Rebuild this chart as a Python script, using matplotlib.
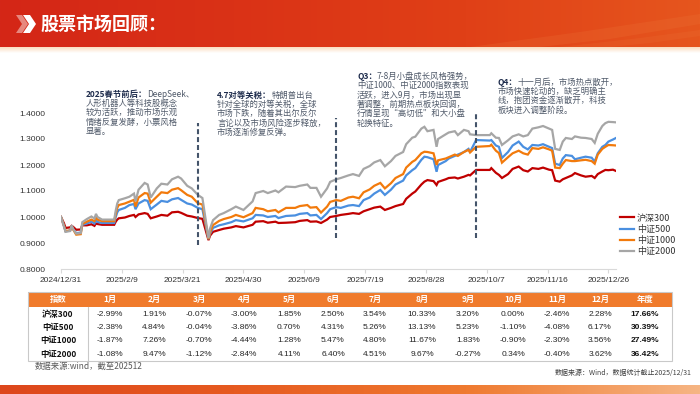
import numpy as np
import pandas as pd
import matplotlib
matplotlib.use("Agg")
import matplotlib.pyplot as plt
from matplotlib.patches import Rectangle, Polygon
from matplotlib.colors import LinearSegmentedColormap

CJK = ["Noto Sans CJK SC", "DejaVu Sans"]
NUM = ["Liberation Sans", "Noto Sans CJK SC", "DejaVu Sans"]
plt.rcParams["font.family"] = CJK

# ---- 指数走势（2024/12/31 = 1） ----
dates = [
    "2024-12-31", "2025-01-02", "2025-01-03", "2025-01-06", "2025-01-07", "2025-01-08", "2025-01-10",
    "2025-01-13", "2025-01-14", "2025-01-17", "2025-01-20", "2025-01-22", "2025-01-23", "2025-01-24", "2025-01-27",
    "2025-02-04", "2025-02-05", "2025-02-06", "2025-02-07", "2025-02-11", "2025-02-14", "2025-02-17",
    "2025-02-18", "2025-02-20", "2025-02-24", "2025-02-26", "2025-02-28",
    "2025-03-04", "2025-03-07", "2025-03-11", "2025-03-14", "2025-03-18", "2025-03-20", "2025-03-24",
    "2025-03-27", "2025-03-31",
    "2025-04-03", "2025-04-07", "2025-04-08", "2025-04-10", "2025-04-14", "2025-04-17", "2025-04-22",
    "2025-04-25", "2025-04-30",
    "2025-05-06", "2025-05-08", "2025-05-13", "2025-05-16", "2025-05-21", "2025-05-23", "2025-05-28",
    "2025-06-03", "2025-06-06", "2025-06-11", "2025-06-13", "2025-06-17", "2025-06-20", "2025-06-24",
    "2025-06-26", "2025-06-30",
    "2025-07-03", "2025-07-08", "2025-07-11", "2025-07-15", "2025-07-18", "2025-07-22", "2025-07-25", "2025-07-29",
    "2025-08-01", "2025-08-05", "2025-08-08", "2025-08-13", "2025-08-15", "2025-08-19", "2025-08-21",
    "2025-08-25", "2025-08-27", "2025-08-29",
    "2025-09-02", "2025-09-04", "2025-09-05", "2025-09-10", "2025-09-12", "2025-09-16", "2025-09-18",
    "2025-09-22", "2025-09-25", "2025-09-26", "2025-09-30",
    "2025-10-09", "2025-10-10", "2025-10-13", "2025-10-15", "2025-10-17", "2025-10-21", "2025-10-24",
    "2025-10-28", "2025-10-31",
    "2025-11-03", "2025-11-06", "2025-11-10", "2025-11-13", "2025-11-17", "2025-11-19", "2025-11-21",
    "2025-11-24", "2025-11-26", "2025-11-28",
    "2025-12-02", "2025-12-04", "2025-12-08", "2025-12-11", "2025-12-15", "2025-12-17", "2025-12-19",
    "2025-12-22", "2025-12-24", "2025-12-26", "2025-12-29", "2025-12-31",
]

hs300 = [
    1.000, 0.975, 0.958, 0.960, 0.966, 0.962, 0.951, 0.952, 0.968, 0.968, 0.972, 0.966, 0.975, 0.973, 0.970,
    0.970, 0.982, 0.990, 0.995, 0.998, 1.004, 1.008, 1.000, 1.010, 1.015, 1.012, 0.995,
    1.002, 1.008, 1.005, 1.018, 1.020, 1.016, 1.005, 1.002, 0.996,
    0.993, 0.911, 0.928, 0.943, 0.950, 0.955, 0.960, 0.965, 0.960,
    0.970, 0.982, 0.984, 0.978, 0.982, 0.977, 0.978,
    0.980, 0.985, 0.988, 0.982, 0.983, 0.977, 0.990, 1.000, 1.004,
    1.008, 1.012, 1.015, 1.012, 1.022, 1.030, 1.036, 1.040,
    1.027, 1.035, 1.042, 1.050, 1.070, 1.090, 1.098, 1.125, 1.136, 1.142,
    1.138, 1.123, 1.135, 1.145, 1.150, 1.152, 1.148, 1.155, 1.162, 1.160, 1.181,
    1.181, 1.188, 1.170, 1.162, 1.150, 1.165, 1.185, 1.194, 1.180,
    1.175, 1.188, 1.185, 1.190, 1.182, 1.180, 1.140, 1.136, 1.145, 1.150,
    1.160, 1.169, 1.160, 1.155, 1.158, 1.150, 1.165, 1.175, 1.181, 1.180, 1.182, 1.177,
]

zz500 = [
    1.000, 0.965, 0.945, 0.948, 0.962, 0.953, 0.938, 0.940, 0.970, 0.975, 0.982, 0.975, 0.988, 0.981, 0.977,
    0.977, 1.000, 1.018, 1.027, 1.035, 1.046, 1.050, 1.030, 1.052, 1.065, 1.062, 1.030,
    1.048, 1.062, 1.058, 1.068, 1.073, 1.066, 1.052, 1.048, 1.035,
    1.030, 0.915, 0.935, 0.958, 0.968, 0.972, 0.980, 0.988, 0.983,
    0.995, 1.008, 1.006, 1.000, 1.004, 0.996, 1.004,
    1.006, 1.012, 1.015, 1.006, 1.008, 0.992, 1.015, 1.030, 1.038,
    1.035, 1.044, 1.046, 1.042, 1.065, 1.075, 1.090, 1.104,
    1.085, 1.105, 1.125, 1.140, 1.160, 1.180, 1.188, 1.220, 1.232, 1.230,
    1.222, 1.174, 1.200, 1.215, 1.225, 1.235, 1.240, 1.250, 1.262, 1.250, 1.296,
    1.294, 1.296, 1.275, 1.270, 1.227, 1.250, 1.275, 1.290, 1.270,
    1.260, 1.277, 1.275, 1.280, 1.270, 1.265, 1.205, 1.200, 1.225, 1.238,
    1.235, 1.222, 1.228, 1.232, 1.228, 1.213, 1.245, 1.270, 1.277, 1.290, 1.298, 1.304,
]

zz1000 = [
    1.000, 0.965, 0.946, 0.948, 0.963, 0.952, 0.932, 0.934, 0.973, 0.982, 0.990, 0.984, 0.998, 0.990, 0.984,
    0.984, 1.012, 1.035, 1.046, 1.052, 1.059, 1.066, 1.040, 1.075, 1.092, 1.090, 1.055,
    1.078, 1.095, 1.092, 1.105, 1.111, 1.103, 1.085, 1.078, 1.053,
    1.048, 0.915, 0.940, 0.969, 0.985, 0.992, 1.000, 1.008, 0.999,
    1.015, 1.035, 1.030, 1.022, 1.027, 1.018, 1.035,
    1.035, 1.042, 1.046, 1.036, 1.038, 1.017, 1.040, 1.058, 1.065,
    1.062, 1.075, 1.078, 1.072, 1.095, 1.106, 1.120, 1.131,
    1.110, 1.130, 1.150, 1.165, 1.190, 1.212, 1.219, 1.245, 1.251, 1.250,
    1.245, 1.200, 1.218, 1.225, 1.230, 1.240, 1.235, 1.250, 1.258, 1.248, 1.270,
    1.273, 1.278, 1.255, 1.246, 1.209, 1.230, 1.245, 1.255, 1.245,
    1.240, 1.265, 1.262, 1.268, 1.260, 1.255, 1.190, 1.188, 1.205, 1.219,
    1.215, 1.215, 1.218, 1.220, 1.215, 1.205, 1.240, 1.262, 1.270, 1.277, 1.276, 1.275,
]

zz2000 = [
    1.000, 0.962, 0.943, 0.946, 0.968, 0.954, 0.936, 0.938, 0.980, 0.992, 1.002, 0.994, 1.012, 1.000, 0.990,
    0.990, 1.025, 1.052, 1.065, 1.072, 1.078, 1.090, 1.060, 1.105, 1.131, 1.125, 1.075,
    1.110, 1.128, 1.125, 1.145, 1.155, 1.148, 1.120, 1.110, 1.085,
    1.073, 0.918, 0.955, 0.988, 1.008, 1.015, 1.030, 1.040, 1.027,
    1.060, 1.092, 1.100, 1.092, 1.102, 1.095, 1.117,
    1.115, 1.120, 1.125, 1.112, 1.112, 1.078, 1.110, 1.135, 1.145,
    1.150, 1.160, 1.165, 1.158, 1.185, 1.196, 1.210, 1.219,
    1.195, 1.215, 1.235, 1.250, 1.280, 1.305, 1.309, 1.340, 1.347, 1.330,
    1.335, 1.270, 1.300, 1.318, 1.325, 1.330, 1.315, 1.335, 1.330, 1.318, 1.315,
    1.315, 1.322, 1.305, 1.304, 1.277, 1.295, 1.310, 1.318, 1.310,
    1.315, 1.340, 1.345, 1.350, 1.340, 1.335, 1.262, 1.258, 1.290, 1.304,
    1.300, 1.310, 1.305, 1.304, 1.300, 1.285, 1.320, 1.350, 1.361, 1.366, 1.365, 1.364,
]

series_names = ["沪深300", "中证500", "中证1000", "中证2000"]
series_colors = ["#C00000", "#4A8FE0", "#F27A0C", "#A6A6A6"]

tick_dates = ["2024-12-31", "2025-02-09", "2025-03-21", "2025-04-30", "2025-06-09",
              "2025-07-19", "2025-08-28", "2025-10-07", "2025-11-16", "2025-12-26"]
tick_labels = ["2024/12/31", "2025/2/9", "2025/3/21", "2025/4/30", "2025/6/9",
               "2025/7/19", "2025/8/28", "2025/10/7", "2025/11/16", "2025/12/26"]

# 季度分隔虚线
quarter_lines = [("2025-03-31", 0.892, 1.362), ("2025-06-30", 0.918, 1.382), ("2025-09-30", 0.918, 1.398)]

# ---- 月度涨跌幅表 ----
table_header = ["指数", "1月", "2月", "3月", "4月", "5月", "6月", "7月", "8月",
                "9月", "10月", "11月", "12月", "年度"]
table_rows = ["沪深300", "中证500", "中证1000", "中证2000"]
ret_hs300 = [-2.99, 1.91, -0.07, -3.00, 1.85, 2.50, 3.54, 10.33, 3.20, 0.00, -2.46, 2.28]
ret_zz500 = [-2.38, 4.84, -0.04, -3.86, 0.70, 4.31, 5.26, 13.13, 5.23, -1.10, -4.08, 6.17]
ret_zz1000 = [-1.87, 7.26, -0.70, -4.44, 1.28, 5.47, 4.80, 11.67, 1.83, -0.90, -2.30, 3.56]
ret_zz2000 = [-1.08, 9.47, -1.12, -2.84, 4.11, 6.40, 4.51, 9.67, -0.27, 0.34, -0.40, 3.62]
ret_year = [17.66, 30.39, 27.49, 36.42]

notes = [
    (86, 94, "2025春节前后：", "DeepSeek、",
     ["人形机器人等科技股概念", "较为活跃，推动市场乐观", "情绪反复发酵，小票风格", "显著。"]),
    (217, 95, "4.7对等关税：", "特朗普出台",
     ["针对全球的对等关税，全球", "市场下跌，随着其出尔反尔", "言论以及市场风险逐步释放，", "市场逐渐修复反弹。"]),
    (357, 76, "Q3：", "7-8月小盘成长风格强势，",
     ["中证1000、中证2000指数表现", "活跃，进入9月，市场出现显", "著调整，前期热点板块回调，",
      "行情呈现“高切低”和大小盘", "轮换特征。"]),
    (498, 82, "Q4：", "十一月后，市场热点散开，",
     ["市场快速轮动的，缺乏明确主", "线，抱团资金逐渐散开，科技", "板块进入调整阶段。"]),
]

W, H = 700, 394
fig = plt.figure(figsize=(W / 100, H / 100), dpi=100)

# 背景层（像素坐标）
bg = fig.add_axes([0, 0, 1, 1])
bg.set_autoscale_on(False)
bg.set_xlim(0, W)
bg.set_ylim(H, 0)
bg.axis("off")


def grad(x0, x1, y0, y1, colors, vertical=False):
    cmap = LinearSegmentedColormap.from_list("g", colors)
    img = np.linspace(0, 1, 256)
    img = img[:, None] if vertical else img[None, :]
    bg.imshow(img, cmap=cmap, extent=(x0, x1, y1, y0), aspect="auto", zorder=0)


grad(0, W, 0, 47, ["#D42617", "#DA3216", "#E04017", "#E6561E"])
bg.add_patch(Polygon([(470, 47), (580, 32), (700, 14), (700, 24), (610, 39), (540, 47)],
                     closed=True, color="#F08040", alpha=0.18, lw=0, zorder=1))
bg.add_patch(Polygon([(560, 47), (640, 38), (700, 30), (700, 36), (650, 43), (610, 47)],
                     closed=True, color="#F08040", alpha=0.15, lw=0, zorder=1))
grad(0, W, 47, 53, ["#FBDDBF", "#FFFFFF"], vertical=True)
grad(0, W, 385, 394, ["#DD471C", "#E65A20", "#EF7A30", "#F6B583"])

bg.add_patch(Polygon([(16, 15), (22, 15), (28, 24), (22, 33), (16, 33), (22, 24)],
                     closed=True, color="white", alpha=0.45, lw=0, zorder=2))
bg.add_patch(Polygon([(23, 15), (30, 15), (36, 24), (30, 33), (23, 33), (29, 24)],
                     closed=True, color="white", lw=0, zorder=2))
bg.text(40, 24, "股票市场回顾：", color="white", fontsize=13, fontweight="bold",
        va="center", ha="left", zorder=3)

# ---- 折线图 ----
ax = fig.add_axes([61 / W, 1 - 269 / H, 555 / W, 156 / H])
ax.patch.set_alpha(0)
d = pd.to_datetime(dates)
for vals, name, col in zip([hs300, zz500, zz1000, zz2000], series_names, series_colors):
    ax.plot(d, vals, color=col, lw=1.6, label=name, solid_joinstyle="miter")

for qd, lo, hi in quarter_lines:
    qx = pd.Timestamp(qd)
    ax.plot([qx, qx], [lo, hi], color="#44546A", lw=1.5, linestyle=(0, (2.4, 1.4)))

ax.set_xlim(pd.Timestamp("2024-12-31"), pd.Timestamp("2025-12-31"))
ax.set_ylim(0.8, 1.4)
yt = np.arange(8, 15) / 10
ax.set_yticks(yt)
ax.set_yticklabels([f"{v:.4f}" for v in yt], fontfamily=NUM, fontsize=6, color="#333333")
ax.set_xticks(pd.to_datetime(tick_dates))
ax.set_xticklabels(tick_labels, fontfamily=NUM, fontsize=6, color="#333333")
for s in ["top", "right", "left"]:
    ax.spines[s].set_visible(False)
ax.spines["bottom"].set_color("#D9D9D9")
ax.spines["bottom"].set_linewidth(0.8)
ax.tick_params(axis="y", length=0, pad=11)
ax.tick_params(axis="x", length=3, color="#D9D9D9", pad=3)

fig.legend(*ax.get_legend_handles_labels(), loc="center left",
           bbox_to_anchor=(620 / W, 1 - 235 / H), frameon=False, fontsize=6.5,
           handlelength=1.6, handletextpad=0.3, labelspacing=0.25, borderaxespad=0, borderpad=0,
           labelcolor="#333333")

# ---- 注释文字 ----
renderer = fig.canvas.get_renderer()
for x0, y0, prefix, rest, lines in notes:
    t = bg.text(x0, y0, prefix, fontsize=6, fontweight="bold", color="#1F2D4D", va="center", ha="left")
    w = t.get_window_extent(renderer).width
    bg.text(x0 + w, y0, rest, fontsize=6, color="#505A6A", va="center", ha="left")
    for i, line in enumerate(lines):
        bg.text(x0, y0 + (i + 1) * 9.4, line, fontsize=6, color="#505A6A", va="center", ha="left")

# ---- 表格 ----
col_x = [58, 110, 154, 199, 244, 289, 333, 375, 422, 468, 513, 557, 600, 645]
row_y = [314, 327.3, 340.6, 354]
bg.add_patch(Rectangle((28, 292), 644, 15, color="#F07B2C", lw=0, zorder=2))
bg.add_patch(Rectangle((28, 292), 644, 69, fill=False, edgecolor="#C9C9C9", lw=0.8, zorder=2))
bg.plot([88, 88], [307, 361], color="#C9C9C9", lw=0.8, zorder=2)
for cx, h in zip(col_x, table_header):
    bg.text(cx, 299.5, h, fontsize=6, fontweight="bold", color="white", ha="center", va="center", zorder=3)
for ry, name, rets, yr in zip(row_y, table_rows, [ret_hs300, ret_zz500, ret_zz1000, ret_zz2000], ret_year):
    bg.text(col_x[0], ry, name, fontsize=6, fontweight="bold", color="#111111", ha="center", va="center")
    for cx, v in zip(col_x[1:13], rets):
        bg.text(cx, ry, f"{v:.2f}%", fontsize=6, color="#262626", ha="center", va="center",
                family=NUM)
    bg.text(col_x[13], ry, f"{yr:.2f}%", fontsize=6, fontweight="bold", color="#111111",
            ha="center", va="center", family=NUM)

bg.text(35, 366.5, "数据来源:wind，截至202512", fontsize=6, color="#595959", ha="left", va="center")
bg.text(692, 372.5, "数据来源：Wind，数据统计截止2025/12/31", fontsize=5, color="#404040",
        ha="right", va="center")

fig.savefig("out.png", dpi=100)
